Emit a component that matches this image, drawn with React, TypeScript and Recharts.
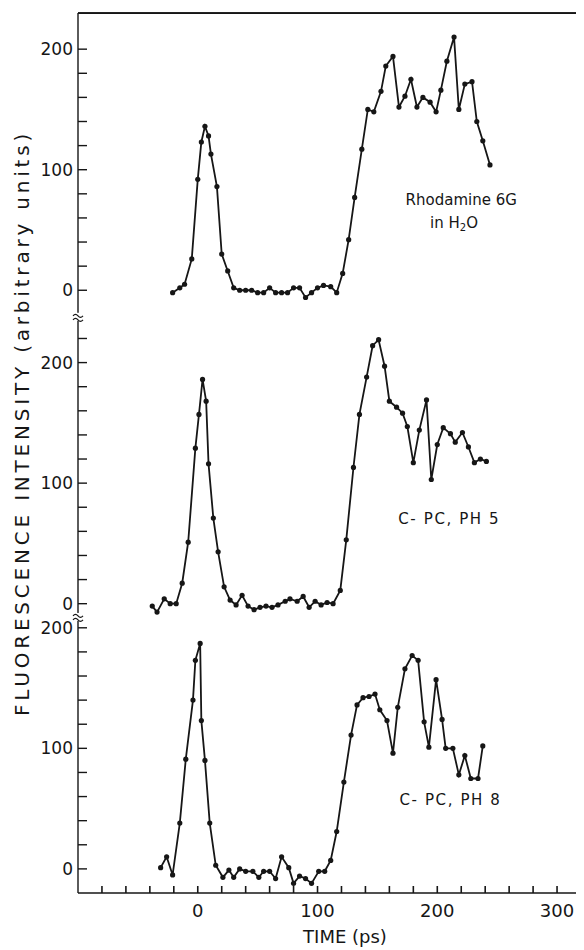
import { LineChart, Line, XAxis, YAxis, ReferenceDot, ReferenceLine } from "recharts";

// Rhodamine 6G in water
const rhodTime = [-21, -15, -11, -5, 0, 3, 6, 9, 11, 16, 20, 25, 30, 35, 40, 45, 50, 55, 60, 65, 70, 75, 80, 85, 90, 95, 100, 105, 111, 116, 121, 126, 131, 137, 142, 147, 153, 157, 163, 168, 173, 178, 183, 188, 194, 199, 203, 208, 214, 218, 223, 229, 233, 238, 244];
const rhodValue = [-2, 2, 5, 26, 92, 123, 136, 128, 113, 86, 30, 16, 2, 0, 0, 0, -2, -2, 2, -2, -2, -2, 2, 2, -6, -2, 2, 4, 3, -2, 14, 42, 77, 117, 150, 148, 165, 186, 194, 152, 161, 175, 152, 160, 156, 148, 166, 190, 210, 150, 171, 173, 140, 124, 104];

// C-phycocyanin, pH 5
const ph5Time = [-38, -34, -28, -23, -18, -13, -8, -2, 1, 4, 7, 9, 13, 17, 22, 27, 32, 37, 42, 47, 52, 57, 62, 67, 73, 77, 83, 88, 93, 98, 103, 108, 113, 119, 124, 130, 135, 141, 146, 151, 156, 160, 166, 171, 175, 180, 185, 191, 195, 200, 205, 211, 215, 221, 226, 231, 236, 241];
const ph5Value = [-2, -7, 4, 0, 0, 17, 51, 129, 157, 186, 168, 116, 71, 43, 14, 3, -1, 7, -2, -5, -3, -2, -3, -1, 2, 4, 2, 6, -3, 2, -1, 1, 0, 11, 53, 113, 157, 188, 214, 219, 197, 168, 163, 158, 147, 117, 144, 169, 103, 132, 146, 141, 134, 142, 130, 117, 120, 118];

// C-phycocyanin, pH 8
const ph8Time = [-31, -26, -21, -15, -10, -4, -2, 2, 3, 6, 10, 15, 21, 26, 30, 35, 40, 46, 51, 55, 60, 65, 70, 76, 80, 85, 90, 95, 101, 106, 111, 116, 122, 128, 133, 138, 143, 148, 152, 158, 163, 167, 173, 179, 184, 189, 193, 199, 204, 207, 213, 218, 223, 228, 234, 238];
const ph8Value = [1, 10, -5, 38, 91, 140, 173, 187, 123, 90, 38, 3, -7, -1, -7, 0, -2, -2, -7, -2, -2, -8, 10, 1, -12, -6, -8, -12, -2, -2, 7, 31, 72, 111, 136, 142, 143, 145, 132, 123, 96, 134, 166, 177, 173, 122, 101, 157, 124, 100, 100, 78, 94, 75, 75, 102];

const timeTicks = [-100, -80, -60, -40, -20, 0, 20, 40, 60, 80, 100, 120, 140, 160, 180, 200, 220, 240, 260, 280, 300];
const timeLabels = [0, 100, 200, 300];
const intensityLabels = [0, 100, 200];

// the three traces share one axis, each shifted up by its own base
const panels = [
  { name: "rhod", base: 500, time: rhodTime, value: rhodValue, ticks: [0, 20, 40, 60, 80, 100, 120, 140, 160, 180, 200] },
  { name: "ph5", base: 240, time: ph5Time, value: ph5Value, ticks: [0, 20, 40, 60, 80, 100, 120, 140, 160, 180, 200, 220] },
  { name: "ph8", base: 20, time: ph8Time, value: ph8Value, ticks: [-20, 0, 20, 40, 60, 80, 100, 120, 140, 160, 180, 200] },
];
const axisBreaks = [478, 229];
const TOP = 730;

const notes = [
  { panel: 0, t: 220, v: 75, text: "Rhodamine 6G" },
  { panel: 0, t: 214, v: 56, text: "in H2O" },
  { panel: 1, t: 210, v: 70, text: "C- PC, PH 5" },
  { panel: 2, t: 211, v: 57, text: "C- PC, PH 8" },
];

const INK = "#161616";
const FONT = "'DejaVu Sans', sans-serif";

const yTicks = panels.flatMap((p) => p.ticks.map((v) => p.base + v)).sort((a, b) => a - b);

function intensityLabel(c: number) {
  for (const p of panels) {
    const v = c - p.base;
    if (intensityLabels.includes(v)) return String(v);
  }
  return null;
}

function LeftTick(props: any) {
  const { x, y, payload } = props;
  const label = intensityLabel(payload.value);
  return (
    <g>
      {payload.value > 0 && <line x1={x} y1={y} x2={x + 9} y2={y} stroke={INK} strokeWidth={1.4} />}
      {label !== null && (
        <text x={x - 5} y={y} dy={6} textAnchor="end" fontFamily={FONT} fontSize={17} fill={INK}>
          {label}
        </text>
      )}
    </g>
  );
}

function RightTick(props: any) {
  const { x, y, payload } = props;
  if (payload.value <= 0) return <g />;
  return <line x1={x} y1={y} x2={x - 7} y2={y} stroke={INK} strokeWidth={1.4} />;
}

function BottomTick(props: any) {
  const { x, y, payload } = props;
  const show = timeLabels.includes(payload.value);
  return (
    <g>
      {payload.value > -100 && <line x1={x} y1={y} x2={x} y2={y - 7} stroke={INK} strokeWidth={1.6} />}
      {show && (
        <text x={x} y={y + 24} textAnchor="middle" fontFamily={FONT} fontSize={18} fill={INK}>
          {payload.value}
        </text>
      )}
    </g>
  );
}

function TopTick(props: any) {
  const { x, y, payload } = props;
  if (payload.value <= -100) return <g />;
  return <line x1={x} y1={y} x2={x} y2={y + 6} stroke={INK} strokeWidth={1.4} />;
}

function BreakMark(props: any) {
  const { cx, cy } = props;
  return (
    <g>
      <rect x={cx - 5} y={cy - 4} width={10} height={8} fill="#fff" />
      <path d={`M${cx - 5},${cy - 1} q2.5,-3 5,0 t5,0`} stroke={INK} strokeWidth={1.2} fill="none" />
      <path d={`M${cx - 5},${cy + 3} q2.5,-3 5,0 t5,0`} stroke={INK} strokeWidth={1.2} fill="none" />
    </g>
  );
}

function noteShape(text: string) {
  return (props: any) => {
    const { cx, cy } = props;
    if (text === "in H2O") {
      return (
        <text x={cx} y={cy} textAnchor="middle" dominantBaseline="central" fontFamily={FONT} fontSize={15} fill={INK}>
          in H<tspan dy={4} fontSize={10}>2</tspan>
          <tspan dy={-4}>O</tspan>
        </text>
      );
    }
    return (
      <text
        x={cx}
        y={cy}
        textAnchor="middle"
        dominantBaseline="central"
        fontFamily={FONT}
        fontSize={15}
        letterSpacing={text.startsWith("C") ? 1.6 : 0}
        fill={INK}
      >
        {text}
      </text>
    );
  };
}

export default function App() {
  return (
    <div style={{ position: "relative", width: 576, height: 942, background: "#fff" }}>
      <LineChart width={576} height={942} margin={{ top: 0, right: 2, bottom: 0, left: 0 }}>
        <XAxis
          xAxisId="bottom"
          dataKey="t"
          type="number"
          domain={[-100, 320]}
          ticks={timeTicks}
          interval={0}
          height={57}
          tickSize={0}
          tickMargin={0}
          tickLine={false}
          stroke={INK}
          strokeWidth={1.6}
          tick={<BottomTick />}
        />
        <XAxis
          xAxisId="top"
          orientation="top"
          type="number"
          domain={[-100, 320]}
          ticks={timeTicks}
          interval={0}
          height={5}
          tickSize={0}
          tickMargin={0}
          tickLine={false}
          stroke={INK}
          strokeWidth={1.6}
          tick={<TopTick />}
        />
        <YAxis
          yAxisId="left"
          type="number"
          domain={[0, TOP]}
          ticks={yTicks}
          interval={0}
          width={70}
          tickSize={0}
          tickMargin={0}
          tickLine={false}
          stroke={INK}
          strokeWidth={1.4}
          tick={<LeftTick />}
        />
        <YAxis
          yAxisId="right"
          orientation="right"
          type="number"
          domain={[0, TOP]}
          ticks={yTicks}
          interval={0}
          width={1}
          tickSize={0}
          tickMargin={0}
          tickLine={false}
          stroke={INK}
          strokeWidth={1.4}
          tick={<RightTick />}
        />
        <ReferenceLine xAxisId="bottom" yAxisId="left" y={TOP} stroke={INK} strokeWidth={1.6} ifOverflow="visible" />
        <ReferenceLine xAxisId="bottom" yAxisId="left" x={320} stroke={INK} strokeWidth={1.4} ifOverflow="visible" />
        {panels.map((p) => (
          <Line
            key={p.name}
            xAxisId="bottom"
            yAxisId="left"
            data={p.time.map((t, i) => ({ t, v: p.value[i] }))}
            dataKey={(d: any) => d.v + p.base}
            stroke={INK}
            strokeWidth={1.8}
            dot={{ r: 2.6, fill: INK, stroke: INK, strokeWidth: 0 }}
            activeDot={false}
            isAnimationActive={false}
          />
        ))}
        {axisBreaks.map((c) => (
          <ReferenceDot key={c} xAxisId="bottom" yAxisId="left" x={-100} y={c} ifOverflow="visible" shape={<BreakMark />} />
        ))}
        {notes.map((n) => (
          <ReferenceDot
            key={n.text}
            xAxisId="bottom"
            yAxisId="left"
            x={n.t}
            y={panels[n.panel].base + n.v}
            ifOverflow="visible"
            shape={noteShape(n.text)}
          />
        ))}
      </LineChart>
      {/* plot frame: top and right edges */}
      <div
        style={{
          position: "absolute",
          left: 70,
          top: 5,
          width: 504,
          height: 880,
          boxSizing: "border-box",
          borderTop: `1.6px solid ${INK}`,
          borderRight: `1.4px solid ${INK}`,
          pointerEvents: "none",
        }}
      />
      <div
        style={{
          position: "absolute",
          left: 337,
          top: 919,
          transform: "translateX(-50%)",
          fontFamily: FONT,
          fontSize: 18,
          lineHeight: "20px",
          color: INK,
          whiteSpace: "nowrap",
        }}
      >
        TIME (ps)
      </div>
      <div
        style={{
          position: "absolute",
          left: 14,
          top: 415,
          transform: "translate(-50%, -50%) rotate(-90deg)",
          fontFamily: FONT,
          fontSize: 20,
          letterSpacing: 3.8,
          lineHeight: "22px",
          color: INK,
          whiteSpace: "nowrap",
        }}
      >
        FLUORESCENCE INTENSITY (arbitrary units)
      </div>
    </div>
  );
}
